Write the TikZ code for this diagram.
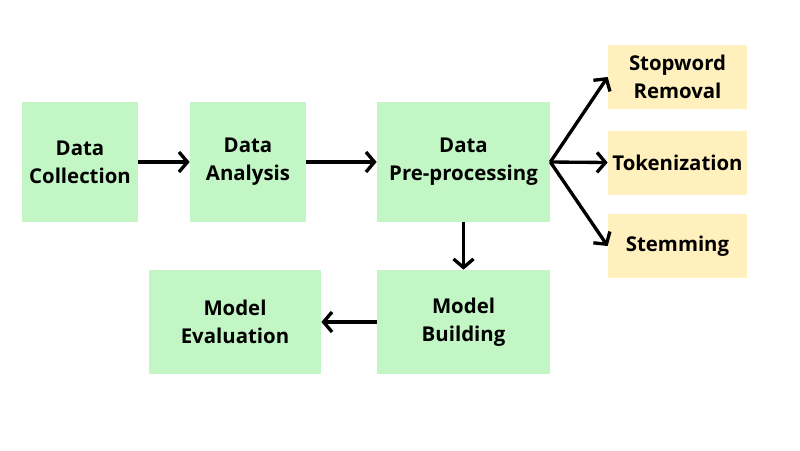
\documentclass[tikz,border=0pt]{standalone}
\usepackage{fontspec}
\setmainfont{Open Sans}
\usepackage{xcolor}
\usetikzlibrary{arrows.meta, positioning}

\definecolor{stagegreen}{RGB}{194,246,196}
\definecolor{stepyellow}{RGB}{255,240,190}

\begin{document}
\begin{tikzpicture}[
    box/.style={
        rectangle, inner sep=0pt, align=center,
        font=\fontsize{11.6}{16}\selectfont\bfseries
    },
    stage/.style={fill=stagegreen, minimum height=2.4cm},
    substep/.style={fill=stepyellow, minimum width=2.78cm, minimum height=1.28cm},
    arrow/.style={-{Straight Barb[length=1.7mm, width=4mm]}, line width=1.9pt}
]
\useasboundingbox (0,0) rectangle (16,-9);

% Main pipeline
\node[box, stage, minimum width=2.32cm] (collect) at (1.60,-3.24) {Data\\Collection};
\node[box, stage, minimum width=2.32cm] (analysis) at (4.96,-3.24) {Data\\Analysis};
\node[box, stage, minimum width=3.46cm] (preproc) at (9.27,-3.24) {Data\\Pre-processing};

% Pre-processing steps
\node[box, substep] (stopword) at (13.55,-1.54) {Stopword\\Removal};
\node[box, substep] (tokenize) at (13.55,-3.25) {Tokenization};
\node[box, substep] (stemming) at (13.55,-4.92) {Stemming};

% Modelling
\node[box, stage, minimum width=3.46cm, minimum height=2.08cm] (building) at (9.27,-6.44) {Model\\Building};
\node[box, stage, minimum width=3.44cm, minimum height=2.08cm] (evaluate) at (4.70,-6.44) {Model\\Evaluation};

% Arrows
\draw[arrow] (collect) -- (analysis);
\draw[arrow] (analysis) -- (preproc);
\draw[arrow] (preproc.east) -- (stopword.west);
\draw[arrow] (preproc.east) -- (tokenize.west);
\draw[arrow] (preproc.east) -- (stemming.west);
\draw[arrow] (preproc) -- (building);
\draw[arrow] (building) -- (evaluate);

\end{tikzpicture}
\end{document}
